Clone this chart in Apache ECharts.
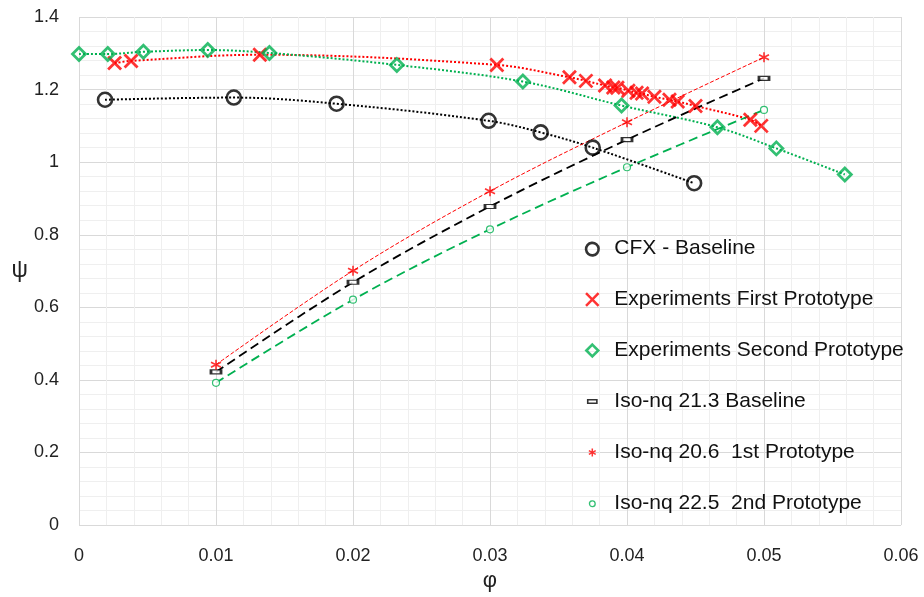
<!DOCTYPE html>
<html>
<head>
<meta charset="utf-8">
<script src="https://cdn.jsdelivr.net/npm/echarts@6/dist/echarts.min.js"></script>
<style>html,body{margin:0;padding:0;background:#fff}#c{width:924px;height:597px}</style>
</head>
<body>
<div id="c"></div>
<script>
// ---- data ----
const cfxPhi = [0.0019, 0.0113, 0.0188, 0.0299, 0.0337, 0.0375, 0.0449];
const cfxPsi = [1.172, 1.178, 1.161, 1.114, 1.082, 1.040, 0.942];

const exp1Phi = [0.0026, 0.0038, 0.0132, 0.0305, 0.0358, 0.0370, 0.0384, 0.0390, 0.0393, 0.0401, 0.0407, 0.0411, 0.0420, 0.0431, 0.0437, 0.0450, 0.0490, 0.0498];
const exp1Psi = [1.273, 1.279, 1.296, 1.268, 1.234, 1.224, 1.211, 1.206, 1.205, 1.197, 1.191, 1.189, 1.180, 1.172, 1.167, 1.155, 1.117, 1.100];

const exp2Phi = [0.0000, 0.0021, 0.0047, 0.0094, 0.0139, 0.0232, 0.0324, 0.0396, 0.0466, 0.0509, 0.0559];
const exp2Psi = [1.298, 1.298, 1.304, 1.309, 1.301, 1.268, 1.222, 1.156, 1.096, 1.038, 0.966];

const isoPhi = [0.01, 0.02, 0.03, 0.04, 0.05];
const iso213Psi = [0.422, 0.669, 0.878, 1.062, 1.231];
const iso206Psi = [0.442, 0.701, 0.920, 1.110, 1.289];
const iso225Psi = [0.392, 0.621, 0.815, 0.986, 1.144];

const xTicks = [0, 0.01, 0.02, 0.03, 0.04, 0.05, 0.06];
const yTicks = [0, 0.2, 0.4, 0.6, 0.8, 1, 1.2, 1.4];

const names = ['CFX - Baseline', 'Experiments First Prototype', 'Experiments Second Prototype',
  'Iso-nq 21.3 Baseline', 'Iso-nq 20.6  1st Prototype', 'Iso-nq 22.5  2nd Prototype'];

// ---- build ----
const pairs = (xs, ys) => xs.map((x, i) => [x, ys[i]]);
const RED = '#ff0000', GREEN = '#00b050', BLACK = '#000000';
const FONT = '"Liberation Sans", Arial, sans-serif';

const xPath = 'path://M0,0L10,10M10,0L0,10';
const xLegend = 'path://M0,0M14,14M1.5,1.5L12.5,12.5M12.5,1.5L1.5,12.5';
const starPath = 'path://M5,0L5,10M0.7,2.5L9.3,7.5M0.7,7.5L9.3,2.5';
const dashPath = 'path://M0,0L10,0L10,3.5L0,3.5Z';
const dashLegend = 'path://M0,0M14,14M3,5.5L11,5.5L11,8.5L3,8.5Z';
const smallStarLegend = 'path://M0,0M14,14M7,3.5L7,10.5M4,5.3L10,8.7M4,8.7L10,5.3';
const smallCircLegend = 'path://M0,0M14,14M9.5,7A2.5,2.5,0,1,1,9.499,6.99Z';

function lineSeries(xs, ys, color, width, type) {
  return {
    type: 'line', data: pairs(xs, ys), smooth: 0.35, symbol: 'none', silent: true,
    lineStyle: { color: color, width: width, type: type }, z: 2
  };
}

const option = {
  animation: false,
  backgroundColor: '#fff',
  grid: { left: 79, right: 23, top: 17, bottom: 70, containLabel: false },
  xAxis: {
    type: 'value', min: xTicks[0], max: xTicks[xTicks.length - 1], interval: 0.01,
    name: 'φ', nameLocation: 'middle', nameGap: 44,
    nameTextStyle: { fontFamily: FONT, fontSize: 22, color: '#222' },
    axisLine: { show: false }, axisTick: { show: false },
    axisLabel: { margin: 22, fontFamily: FONT, fontSize: 18, color: '#222',
      formatter: v => String(parseFloat(v.toFixed(3))) },
    splitLine: { show: true, lineStyle: { color: '#d9d9d9', width: 1 } },
    minorTick: { show: false, splitNumber: 5 },
    minorSplitLine: { show: true, lineStyle: { color: '#efefef', width: 1 } }
  },
  yAxis: {
    type: 'value', min: yTicks[0], max: yTicks[yTicks.length - 1], interval: 0.2,
    name: 'ψ', nameLocation: 'middle', nameGap: 51, nameRotate: 0,
    nameTextStyle: { fontFamily: FONT, fontSize: 23, color: '#222', padding: [12, 0, 0, 0] },
    axisLine: { show: false }, axisTick: { show: false },
    axisLabel: { margin: 20, fontFamily: FONT, fontSize: 18, color: '#222',
      formatter: v => String(parseFloat(v.toFixed(2))) },
    splitLine: { show: true, lineStyle: { color: '#d9d9d9', width: 1 } },
    minorTick: { show: false, splitNumber: 5 },
    minorSplitLine: { show: true, lineStyle: { color: '#efefef', width: 1 } }
  },
  legend: {
    orient: 'vertical', left: 583, top: 238, padding: 0, itemGap: 30, itemWidth: 16, itemHeight: 16,
    symbolKeepAspect: true,
    textStyle: { fontFamily: FONT, fontSize: 21, color: '#111', lineHeight: 20, padding: [0, 0, 0, 9] },
    data: [
      { name: names[0], icon: 'path://M0,0M14,14M12.5,7A5.5,5.5,0,1,1,12.499,6.99Z', itemStyle: { color: 'rgba(0,0,0,0)', borderColor: BLACK, borderWidth: 2.6 } },
      { name: names[1], icon: xLegend, itemStyle: { color: 'rgba(0,0,0,0)', borderColor: RED, borderWidth: 2.5 } },
      { name: names[2], icon: 'path://M0,0M14,14M7,1.8L12.2,7L7,12.2L1.8,7Z', itemStyle: { color: 'rgba(0,0,0,0)', borderColor: GREEN, borderWidth: 2.6 } },
      { name: names[3], icon: dashLegend, itemStyle: { color: '#fff', borderColor: BLACK, borderWidth: 1.6 } },
      { name: names[4], icon: smallStarLegend, itemStyle: { color: 'rgba(0,0,0,0)', borderColor: RED, borderWidth: 1.5 } },
      { name: names[5], icon: smallCircLegend, itemStyle: { color: '#fff', borderColor: GREEN, borderWidth: 1.3 } }
    ]
  },
  series: [
    lineSeries(cfxPhi, cfxPsi, BLACK, 2, [2, 2]),
    lineSeries(exp1Phi, exp1Psi, RED, 2, [2, 2]),
    lineSeries(exp2Phi, exp2Psi, GREEN, 2, [2, 2]),
    lineSeries(isoPhi, iso213Psi, BLACK, 1.8, [9, 5]),
    lineSeries(isoPhi, iso206Psi, RED, 1, [4, 2]),
    lineSeries(isoPhi, iso225Psi, GREEN, 1.8, [9, 5]),
    { name: names[0], type: 'scatter', data: pairs(cfxPhi, cfxPsi), symbol: 'circle', symbolSize: 14, z: 5,
      itemStyle: { color: 'rgba(0,0,0,0)', borderColor: BLACK, borderWidth: 2.6 } },
    { name: names[1], type: 'scatter', data: pairs(exp1Phi, exp1Psi), symbol: xPath, symbolSize: 13, z: 5,
      itemStyle: { color: 'rgba(0,0,0,0)', borderColor: RED, borderWidth: 2.8 } },
    { name: names[2], type: 'scatter', data: pairs(exp2Phi, exp2Psi), symbol: 'diamond', symbolSize: 13, z: 5,
      itemStyle: { color: 'rgba(0,0,0,0)', borderColor: GREEN, borderWidth: 2.8 } },
    { name: names[3], type: 'scatter', data: pairs(isoPhi, iso213Psi), symbol: dashPath, symbolSize: [10, 4], z: 5,
      itemStyle: { color: '#fff', borderColor: BLACK, borderWidth: 1.8 } },
    { name: names[4], type: 'scatter', data: pairs(isoPhi, iso206Psi), symbol: starPath, symbolSize: 10, z: 5,
      itemStyle: { color: 'rgba(0,0,0,0)', borderColor: RED, borderWidth: 1.6 } },
    { name: names[5], type: 'scatter', data: pairs(isoPhi, iso225Psi), symbol: 'circle', symbolSize: 7, z: 5,
      itemStyle: { color: '#fff', borderColor: GREEN, borderWidth: 1.2 } }
  ]
};

const chart = echarts.init(document.getElementById('c'), null, { renderer: 'canvas' });
chart.setOption(option);
</script>
</body>
</html>
